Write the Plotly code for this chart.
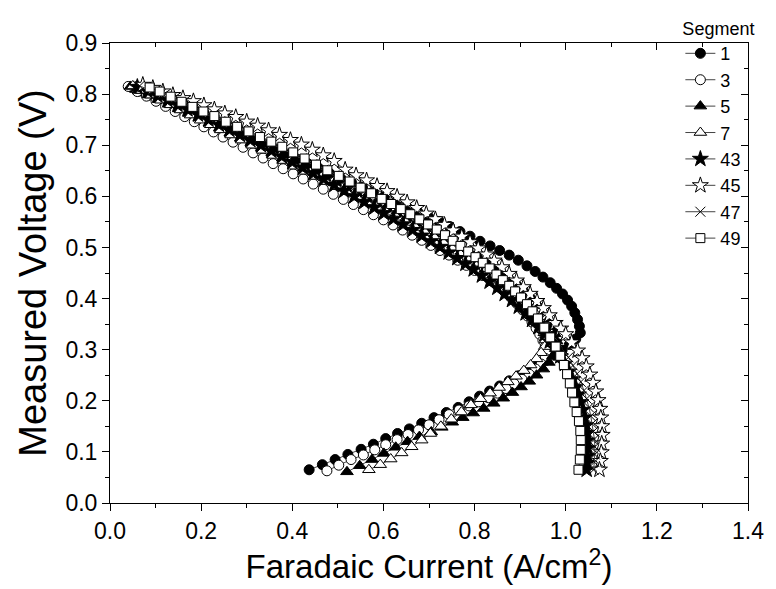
import plotly.graph_objects as go

# ---------------- data ----------------
# Segment 1 (filled circles): upper branch then returning lower branch
I1_up = [0.047,0.066,0.086,0.107,0.129,0.151,0.173,0.196,0.219,0.242,
         0.266,0.290,0.314,0.338,0.362,0.386,0.410,0.434,0.458,0.482,
         0.506,0.530,0.554,0.578,0.602,0.627,0.651,0.675,0.699,0.722,
         0.745,0.768,0.790,0.812,0.834,0.855,0.876,0.896,0.915,0.933,
         0.950,0.966,0.980,0.993,1.004,1.013,1.020,1.026,1.030,1.032]
V1_up = [0.813,0.806,0.798,0.790,0.782,0.773,0.765,0.756,0.747,0.738,
         0.729,0.720,0.710,0.701,0.692,0.683,0.673,0.664,0.655,0.645,
         0.636,0.627,0.618,0.608,0.599,0.589,0.580,0.570,0.560,0.551,
         0.541,0.531,0.522,0.512,0.503,0.494,0.485,0.475,0.464,0.453,
         0.442,0.431,0.420,0.409,0.397,0.385,0.372,0.359,0.346,0.333]
I1_low = [1.022,1.008,0.992,0.975,0.957,0.938,0.918,0.897,0.876,0.855,
          0.833,0.811,0.788,0.764,0.738,0.711,0.684,0.657,0.631,0.605,
          0.578,0.551,0.522,0.494,0.466,0.437]
V1_low = [0.321,0.310,0.299,0.289,0.279,0.269,0.259,0.249,0.239,0.229,
          0.219,0.209,0.198,0.187,0.177,0.167,0.156,0.145,0.136,0.126,
          0.115,0.105,0.095,0.085,0.075,0.065]

# Segment 3 (open circles)
I3_up = [0.040,0.060,0.080,0.101,0.122,0.143,0.164,0.185,0.206,0.227,
         0.248,0.270,0.292,0.314,0.336,0.358,0.380,0.402,0.424,0.446,
         0.468,0.490,0.512,0.534,0.556,0.578,0.600,0.621,0.642,0.663,
         0.684,0.704,0.724,0.744,0.763,0.782,0.800,0.818,0.835,0.851,
         0.866,0.880,0.893,0.905,0.916,0.926,0.935,0.943,0.950,0.955,0.958]
V3_up = [0.815,0.805,0.796,0.786,0.776,0.766,0.756,0.746,0.736,0.726,
         0.716,0.706,0.696,0.685,0.675,0.664,0.654,0.644,0.634,0.624,
         0.614,0.604,0.594,0.584,0.574,0.564,0.554,0.544,0.534,0.524,
         0.514,0.504,0.494,0.485,0.475,0.465,0.455,0.445,0.435,0.424,
         0.413,0.402,0.390,0.378,0.366,0.354,0.342,0.330,0.318,0.306,0.294]
I3_low = [0.955,0.946,0.934,0.920,0.904,0.887,0.869,0.850,0.830,0.809,
          0.788,0.766,0.744,0.722,0.700,0.677,0.654,0.630,0.605,0.581,
          0.556,0.529,0.502,0.476]
V3_low = [0.283,0.272,0.262,0.252,0.242,0.233,0.224,0.215,0.206,0.198,
          0.190,0.182,0.173,0.163,0.153,0.143,0.134,0.124,0.114,0.104,
          0.094,0.085,0.074,0.063]

# Segment 5 (filled triangles)
I5_up = [0.045,0.066,0.087,0.108,0.130,0.152,0.174,0.196,0.218,0.241,
         0.264,0.287,0.310,0.333,0.356,0.379,0.402,0.425,0.448,0.471,
         0.494,0.517,0.540,0.562,0.584,0.606,0.628,0.650,0.671,0.692,
         0.713,0.734,0.754,0.774,0.793,0.812,0.830,0.848,0.865,0.882,
         0.898,0.913,0.927,0.940,0.952,0.962,0.970,0.976,0.980]
V5_up = [0.815,0.807,0.798,0.789,0.780,0.771,0.762,0.753,0.743,0.734,
         0.724,0.714,0.705,0.695,0.685,0.675,0.666,0.656,0.646,0.636,
         0.626,0.616,0.606,0.596,0.586,0.577,0.567,0.557,0.547,0.537,
         0.527,0.517,0.507,0.497,0.487,0.477,0.467,0.457,0.446,0.435,
         0.424,0.412,0.400,0.387,0.373,0.359,0.345,0.331,0.317]
I5_low = [0.978,0.972,0.963,0.951,0.936,0.920,0.902,0.883,0.863,0.842,
          0.820,0.797,0.774,0.751,0.728,0.705,0.679,0.653,0.627,0.601,
          0.575,0.548,0.520]
V5_low = [0.302,0.288,0.275,0.262,0.250,0.238,0.227,0.216,0.205,0.195,
          0.185,0.176,0.167,0.158,0.148,0.139,0.130,0.120,0.109,0.097,
          0.085,0.073,0.061]

# Segment 7 (open triangles)
I7_up = [0.050,0.070,0.091,0.112,0.133,0.155,0.177,0.199,0.221,0.243,
         0.266,0.289,0.312,0.335,0.358,0.381,0.404,0.427,0.450,0.473,
         0.496,0.519,0.541,0.563,0.585,0.607,0.629,0.650,0.671,0.692,
         0.713,0.733,0.753,0.772,0.791,0.809,0.827,0.844,0.860,0.876,
         0.891,0.905,0.918,0.930,0.940,0.948,0.953,0.956]
V7_up = [0.816,0.807,0.798,0.788,0.779,0.769,0.759,0.749,0.740,0.730,
         0.720,0.710,0.700,0.690,0.680,0.670,0.659,0.649,0.639,0.629,
         0.619,0.609,0.599,0.589,0.579,0.569,0.559,0.549,0.539,0.529,
         0.519,0.509,0.499,0.489,0.479,0.469,0.458,0.447,0.436,0.425,
         0.413,0.401,0.388,0.375,0.361,0.347,0.333,0.319]
I7_low = [0.954,0.946,0.936,0.923,0.908,0.891,0.873,0.854,0.834,0.813,
          0.792,0.771,0.749,0.726,0.703,0.684,0.662,0.640,0.616,0.593,0.568]
V7_low = [0.306,0.294,0.282,0.270,0.259,0.248,0.237,0.226,0.215,0.204,
          0.192,0.178,0.164,0.150,0.136,0.123,0.110,0.098,0.086,0.075,0.065]

# Segment 43 (filled stars)
I43 = [0.060,0.082,0.104,0.126,0.148,0.170,0.193,0.216,0.239,0.262,
       0.285,0.308,0.331,0.354,0.377,0.400,0.423,0.446,0.469,0.492,
       0.514,0.536,0.558,0.580,0.601,0.622,0.643,0.664,0.684,0.704,
       0.724,0.743,0.762,0.780,0.798,0.816,0.833,0.850,0.866,0.882,
       0.897,0.912,0.926,0.940,0.953,0.965,0.977,0.988,0.998,1.007,
       1.015,1.022,1.028,1.033,1.037,1.041,1.044,1.046,1.047,1.048,
       1.048,1.047,1.046]
V43 = [0.814,0.806,0.797,0.788,0.779,0.770,0.760,0.750,0.740,0.730,
       0.720,0.710,0.700,0.689,0.678,0.667,0.656,0.645,0.634,0.622,
       0.611,0.600,0.589,0.578,0.567,0.556,0.545,0.534,0.523,0.512,
       0.501,0.490,0.479,0.468,0.457,0.445,0.433,0.421,0.409,0.397,
       0.384,0.371,0.358,0.344,0.330,0.316,0.302,0.287,0.272,0.257,
       0.242,0.227,0.212,0.197,0.182,0.167,0.152,0.137,0.122,0.107,
       0.092,0.078,0.065]

# Segment 45 (open stars)
I45 = [0.072,0.094,0.116,0.138,0.160,0.183,0.206,0.229,0.252,0.276,
       0.300,0.324,0.348,0.372,0.396,0.420,0.444,0.468,0.492,0.516,
       0.540,0.563,0.586,0.608,0.630,0.652,0.673,0.694,0.714,0.734,
       0.753,0.772,0.790,0.808,0.826,0.843,0.860,0.876,0.892,0.907,
       0.922,0.937,0.951,0.964,0.977,0.989,1.000,1.013,1.026,1.036,
       1.045,1.053,1.060,1.066,1.071,1.075,1.077,1.079,1.080,1.079,
       1.078,1.076,1.074]
V45 = [0.818,0.812,0.805,0.798,0.792,0.786,0.778,0.770,0.762,0.755,
       0.746,0.738,0.729,0.720,0.710,0.701,0.691,0.680,0.669,0.652,
       0.641,0.631,0.620,0.610,0.599,0.588,0.577,0.566,0.555,0.544,
       0.533,0.521,0.510,0.498,0.486,0.474,0.461,0.448,0.435,0.422,
       0.409,0.395,0.381,0.367,0.352,0.341,0.330,0.314,0.298,0.283,
       0.267,0.251,0.235,0.218,0.201,0.184,0.167,0.150,0.133,0.116,
       0.099,0.082,0.065]

# Segment 47 (crosses)
I47 = [0.065,0.088,0.111,0.134,0.157,0.180,0.204,0.228,0.252,0.276,
       0.300,0.324,0.348,0.372,0.396,0.420,0.444,0.468,0.492,0.515,
       0.538,0.561,0.583,0.605,0.627,0.648,0.669,0.690,0.710,0.730,
       0.749,0.768,0.786,0.804,0.821,0.838,0.855,0.871,0.887,0.902,
       0.917,0.931,0.945,0.958,0.971,0.983,0.995,1.006,1.016,1.025,
       1.033,1.040,1.046,1.051,1.055,1.058,1.061,1.063,1.064,1.064,
       1.063,1.061]
V47 = [0.816,0.808,0.800,0.791,0.782,0.773,0.764,0.754,0.745,0.735,
       0.726,0.716,0.706,0.696,0.685,0.674,0.663,0.652,0.641,0.630,
       0.619,0.608,0.597,0.586,0.575,0.564,0.553,0.542,0.531,0.520,
       0.509,0.497,0.486,0.474,0.462,0.450,0.438,0.426,0.413,0.400,
       0.387,0.373,0.359,0.345,0.330,0.315,0.300,0.285,0.269,0.253,
       0.237,0.220,0.204,0.187,0.170,0.155,0.140,0.125,0.110,0.095,
       0.080,0.065]

# Segment 49 (open squares)
I49 = [0.087,0.109,0.133,0.157,0.181,0.205,0.229,0.254,0.279,0.304,
       0.329,0.354,0.378,0.402,0.427,0.452,0.477,0.502,0.526,0.550,
       0.573,0.596,0.617,0.638,0.659,0.679,0.698,0.717,0.735,0.752,
       0.769,0.786,0.802,0.818,0.833,0.848,0.862,0.876,0.889,0.902,
       0.915,0.927,0.939,0.953,0.966,0.978,0.988,0.996,1.003,1.009,
       1.014,1.019,1.024,1.029,1.032,1.033,1.033,1.031,1.028]
V49 = [0.813,0.805,0.795,0.785,0.775,0.766,0.757,0.746,0.736,0.727,
       0.716,0.707,0.697,0.686,0.674,0.662,0.651,0.640,0.629,0.617,
       0.606,0.595,0.585,0.575,0.565,0.555,0.545,0.535,0.524,0.513,
       0.503,0.492,0.481,0.470,0.459,0.447,0.436,0.425,0.414,0.402,
       0.389,0.375,0.361,0.343,0.324,0.306,0.288,0.270,0.252,0.234,
       0.216,0.197,0.178,0.160,0.141,0.123,0.104,0.085,0.065]

segment_names = ["1", "3", "5", "7", "43", "45", "47", "49"]
x_ticks = [0.0, 0.2, 0.4, 0.6, 0.8, 1.0, 1.2, 1.4]
y_ticks = [0.0, 0.1, 0.2, 0.3, 0.4, 0.5, 0.6, 0.7, 0.8, 0.9]

# ---------------- figure ----------------
FONT = "Liberation Sans, Arial, sans-serif"
series = [
    (I1_up + I1_low, V1_up + V1_low, "circle", "black", 10),
    (I3_up + I3_low, V3_up + V3_low, "circle", "white", 10),
    (I5_up + I5_low, V5_up + V5_low, "triangle-up", "black", 11),
    (I7_up + I7_low, V7_up + V7_low, "triangle-up", "white", 11),
    (I43, V43, "star", "black", 12),
    (I45, V45, "star", "white", 12),
    (I47, V47, "x-thin", "black", 10),
    (I49, V49, "square", "white", 9),
]

fig = go.Figure()
for name, (xs, ys, sym, fill, size) in zip(segment_names, series):
    fig.add_trace(go.Scatter(
        x=xs, y=ys, name=name, mode="lines+markers",
        line=dict(color="#444444", width=1),
        marker=dict(symbol=sym, color=fill, size=size,
                    line=dict(color="black", width=1)),
    ))

# dummy trace to anchor the mirrored (inside-tick) top/right axes
fig.add_trace(go.Scatter(x=[None], y=[None], xaxis="x2", yaxis="y2",
                         showlegend=False, hoverinfo="skip"))

axis_common = dict(showgrid=False, zeroline=False, showline=True,
                   linecolor="black", linewidth=1, mirror=True,
                   tickcolor="black", tickwidth=1,
                   tickfont=dict(family=FONT, size=23, color="black"))

fig.update_layout(
    width=776, height=589,
    margin=dict(l=110, r=25, t=19, b=86),
    paper_bgcolor="white", plot_bgcolor="white",
    font=dict(family=FONT, color="black"),
    xaxis=dict(range=[0, 1.4], tickvals=x_ticks, ticktext=[f"{v:.1f}" for v in x_ticks],
               ticks="outside", ticklen=7,
               minor=dict(ticks="outside", ticklen=4, dtick=0.1, tickcolor="black"),
               title=dict(text="Faradaic Current (A/cm<sup>2</sup>)",
                          font=dict(family=FONT, size=33), standoff=10),
               **axis_common),
    yaxis=dict(range=[0, 0.9], tickvals=y_ticks, ticktext=[f"{v:.1f}" for v in y_ticks],
               ticks="outside", ticklen=7,
               minor=dict(ticks="outside", ticklen=4, dtick=0.05, tickcolor="black"),
               title=dict(text="Measured Voltage (V)",
                          font=dict(family=FONT, size=38), standoff=7),
               **axis_common),
    xaxis2=dict(range=[0, 1.4], overlaying="x", side="top", anchor="y",
                tickvals=x_ticks, showticklabels=False, ticks="inside", ticklen=7,
                tickcolor="black", showgrid=False, zeroline=False, showline=False,
                minor=dict(ticks="inside", ticklen=4, dtick=0.1, tickcolor="black")),
    yaxis2=dict(range=[0, 0.9], overlaying="y", side="right", anchor="x",
                tickvals=y_ticks, showticklabels=False, ticks="inside", ticklen=7,
                tickcolor="black", showgrid=False, zeroline=False, showline=False,
                minor=dict(ticks="inside", ticklen=4, dtick=0.05, tickcolor="black")),
    legend=dict(x=0.894, y=1.068, xanchor="left", yanchor="top",
                bgcolor="rgba(0,0,0,0)", borderwidth=0,
                font=dict(family=FONT, size=18, color="black"),
                title=dict(text="Segment", font=dict(family=FONT, size=18)),
                tracegroupgap=0, itemwidth=30),
    showlegend=True,
)

fig.write_html("out.html")
